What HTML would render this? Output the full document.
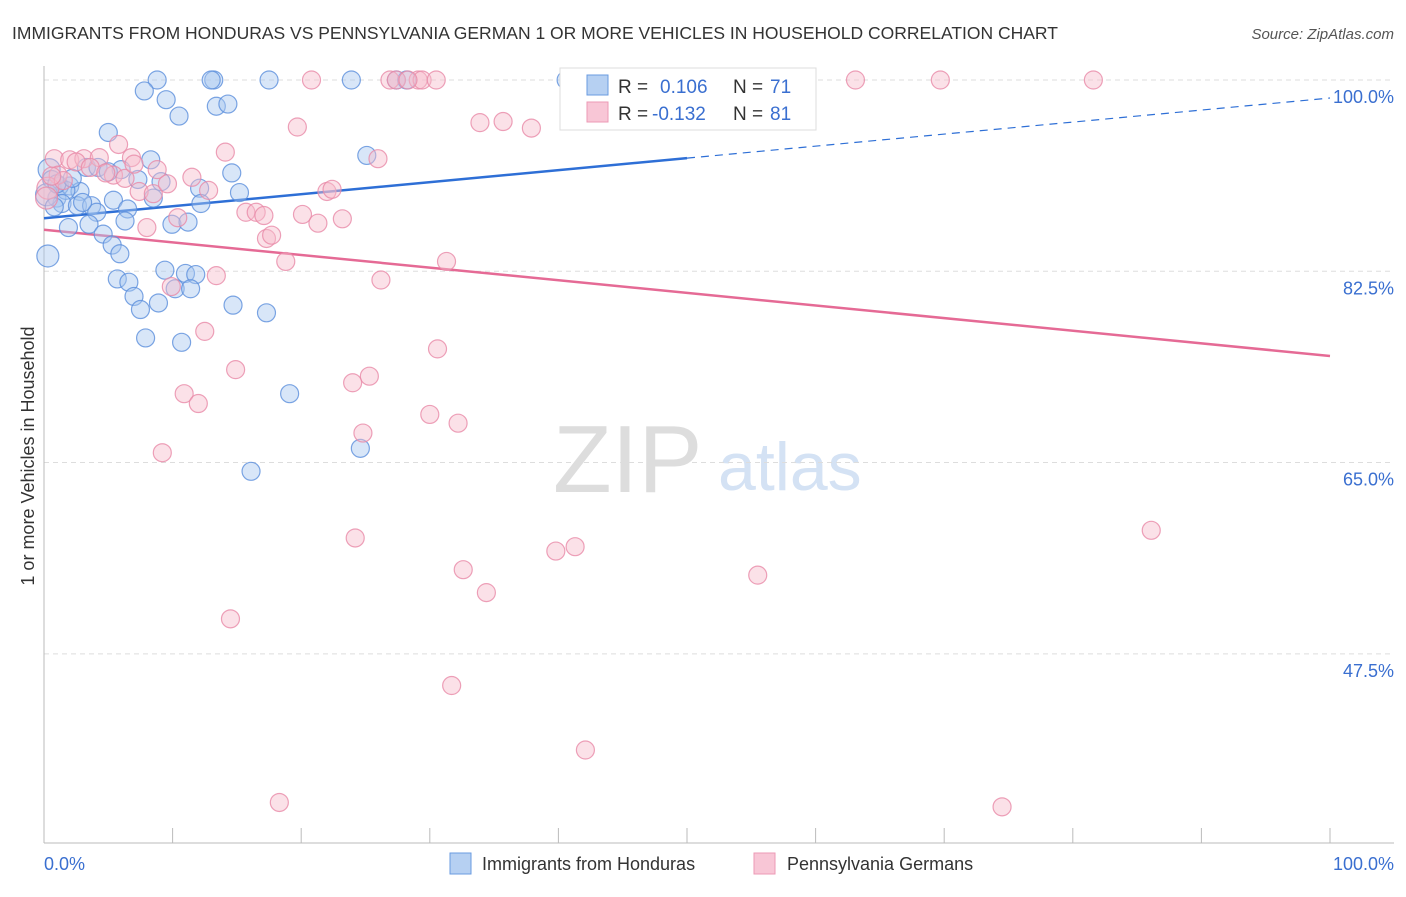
<!DOCTYPE html>
<html><head><meta charset="utf-8"><style>
body{margin:0;background:#fff;font-family:"Liberation Sans",sans-serif;}
svg text{font-family:"Liberation Sans",sans-serif;}
</style></head><body>
<svg id="chart" width="1406" height="892" xmlns="http://www.w3.org/2000/svg">
<text x="12" y="39" font-size="17.5" fill="#333">IMMIGRANTS FROM HONDURAS VS PENNSYLVANIA GERMAN 1 OR MORE VEHICLES IN HOUSEHOLD CORRELATION CHART</text>
<text x="1394" y="39" font-size="15" fill="#555" text-anchor="end" font-style="italic">Source: ZipAtlas.com</text>
<g>
<text x="553" y="492" font-size="96" fill="#ddd" font-family="Liberation Serif,serif">ZIP</text>
<text x="718" y="490" font-size="68" fill="#d4e2f4">atlas</text>
</g>
<g id="grid"></g>
<g id="axes"></g>
<g id="lines"></g>
<g id="pts"></g>
<g>
<rect x="560" y="68" width="256" height="62" fill="#fff" stroke="#ddd"/>
<rect x="587" y="75" width="21" height="20" fill="#b6d0f2" stroke="#6a9be0"/>
<text x="618" y="93" font-size="19" fill="#333">R =</text><text x="660" y="93" font-size="19" fill="#3a6fd0">0.106</text>
<text x="733" y="93" font-size="19" fill="#333">N =</text><text x="770" y="93" font-size="19" fill="#3a6fd0">71</text>
<rect x="587" y="102" width="21" height="20" fill="#f8c6d6" stroke="#ec9ab5"/>
<text x="618" y="120" font-size="19" fill="#333">R =</text><text x="652" y="120" font-size="19" fill="#3a6fd0">-0.132</text>
<text x="733" y="120" font-size="19" fill="#333">N =</text><text x="770" y="120" font-size="19" fill="#3a6fd0">81</text>
</g>
<g>
<rect x="450" y="853" width="21" height="21" fill="#b6d0f2" stroke="#6a9be0"/>
<text x="482" y="870" font-size="18" fill="#333">Immigrants from Honduras</text>
<rect x="754" y="853" width="21" height="21" fill="#f8c6d6" stroke="#ec9ab5"/>
<text x="787" y="870" font-size="18" fill="#333">Pennsylvania Germans</text>
</g>
<text transform="translate(34,456) rotate(-90)" font-size="18" fill="#333" text-anchor="middle">1 or more Vehicles in Household</text>
<text x="44" y="870" font-size="18" fill="#3a6fd0">0.0%</text>
<text x="1394" y="870" font-size="18" fill="#3a6fd0" text-anchor="end">100.0%</text>
</svg>
<script>
const yTicks=[100,82.5,65,47.5];
const yTickLabels=["100.0%","82.5%","65.0%","47.5%"];
const xTicks=[0,10,20,30,40,50,60,70,80,90,100];
const blueX=[8.8,13.2,13.0,17.5,23.9,27.4,28.2,40.6,7.8,9.5,10.5,13.4,14.3,5.0,25.1,8.3,6.0,14.6,3.3,4.2,5.0,7.3,9.1,12.1,15.2,2.0,2.8,1.2,1.0,1.7,1.4,2.6,3.7,4.1,5.4,6.5,6.3,8.5,12.2,9.95,11.2,1.9,3.5,4.6,5.3,5.9,0.3,9.4,11.0,11.8,5.7,6.6,7.0,10.2,11.4,8.9,14.7,17.3,7.5,7.9,10.7,19.1,24.6,16.1,0.4,0.6,0.2,1.0,2.2,3.0,0.8];
const blueY=[100,100,100,100,100,100,100,100,99,98.2,96.7,97.6,97.8,95.2,93.1,92.7,91.8,91.5,92.0,92.0,91.6,90.9,90.7,90.1,89.7,90.3,89.8,90.3,89.2,89.9,88.7,88.5,88.5,87.9,89.0,88.2,87.1,89.2,88.7,86.8,87.0,86.5,86.8,85.9,84.9,84.1,83.9,82.6,82.3,82.2,81.8,81.5,80.2,80.9,80.9,79.6,79.4,78.7,79.0,76.4,76.0,71.3,66.3,64.2,91.8,90.9,89.5,90.5,91.0,88.8,88.4];
const pinkX=[20.8,26.9,27.4,29.1,29.4,30.5,46.3,58.8,63.1,69.7,81.6,28.3,19.7,33.9,35.7,37.9,14.1,25.97,5.8,0.8,2.0,3.1,4.3,6.8,1.1,5.4,8.8,11.5,6.3,12.8,7.4,8.5,22.0,22.4,0.3,0.2,15.7,16.5,17.1,20.1,21.3,23.2,10.4,8.0,17.3,17.7,18.8,31.3,26.2,13.4,9.9,12.5,30.6,14.9,25.3,24.0,10.9,12.0,30.0,32.2,24.8,9.2,24.2,86.1,41.3,39.8,55.5,32.6,34.4,14.5,31.7,42.1,18.3,74.5,2.5,3.6,4.8,1.5,0.6,7.0,9.6];
const pinkY=[100,100,100,100,100,100,100,100,100,100,100,100,95.7,96.1,96.2,95.6,93.4,92.8,94.1,92.8,92.7,92.8,92.9,92.9,91.3,91.3,91.8,91.1,91.0,89.9,89.8,89.6,89.8,90.0,90.1,89.2,87.9,87.9,87.6,87.7,86.9,87.3,87.4,86.5,85.5,85.8,83.4,83.4,81.7,82.1,81.1,77.0,75.4,73.5,72.9,72.3,71.3,70.4,69.4,68.6,67.7,65.9,58.1,58.8,57.3,56.9,54.7,55.2,53.1,50.7,44.6,38.7,33.9,33.5,92.5,92.0,91.5,90.8,91.2,92.3,90.5];
const blueTrend=[87.35,98.35];
const pinkTrend=[86.3,74.75];
const NS="http://www.w3.org/2000/svg";
const X=v=>44+v*12.86;
const Y=v=>80+(100-v)*10.93;
function mk(p,tag,at){const e=document.createElementNS(NS,tag);for(const k in at)e.setAttribute(k,at[k]);document.getElementById(p).appendChild(e);return e;}
yTicks.forEach((t,i)=>{
 const g=mk('grid','line',{x1:44,x2:1394,y1:Y(t),y2:Y(t),stroke:'#ddd','stroke-dasharray':'5,4'});
 
 
 const l=mk('grid','text',{x:1394,y:Y(t)+23,'font-size':18,fill:'#3a6fd0','text-anchor':'end'});
 l.textContent=yTickLabels[i];
 
 
});
const ax=mk('axes','line',{x1:44,x2:44,y1:66,y2:843,stroke:'#bbb'});


const bx=mk('axes','line',{x1:44,x2:1394,y1:843,y2:843,stroke:'#bbb'});


xTicks.forEach(t=>{
 const k=mk('axes','line',{x1:X(t),x2:X(t),y1:828,y2:843,stroke:'#bbb'});
 
 
});
function pts(xs,ys,fill,stroke,name){
 xs.forEach((v,i)=>{
  const c=mk('pts','circle',{cx:X(v),cy:Y(ys[i]),r:(v<0.5?11:9),fill:fill,'fill-opacity':0.45,stroke:stroke,'stroke-opacity':0.8,'stroke-width':1.2});
  
  
 });
}
pts(blueX,blueY,'#a9c8f0','#5b8fdc','honduras-point');
pts(pinkX,pinkY,'#f7bccd','#e889a8','pa-german-point');
const ym=blueTrend[0]+(blueTrend[1]-blueTrend[0])*0.5;
const b1=mk('lines','line',{x1:X(0),y1:Y(blueTrend[0]),x2:X(50),y2:Y(ym),stroke:'#2e6fd6','stroke-width':2.5});


const b2=mk('lines','line',{x1:X(50),y1:Y(ym),x2:X(100),y2:Y(blueTrend[1]),stroke:'#2e6fd6','stroke-width':1.2,'stroke-dasharray':'8,6'});


const p1=mk('lines','line',{x1:X(0),y1:Y(pinkTrend[0]),x2:X(100),y2:Y(pinkTrend[1]),stroke:'#e56a95','stroke-width':2.5});


</script>
</body></html>
